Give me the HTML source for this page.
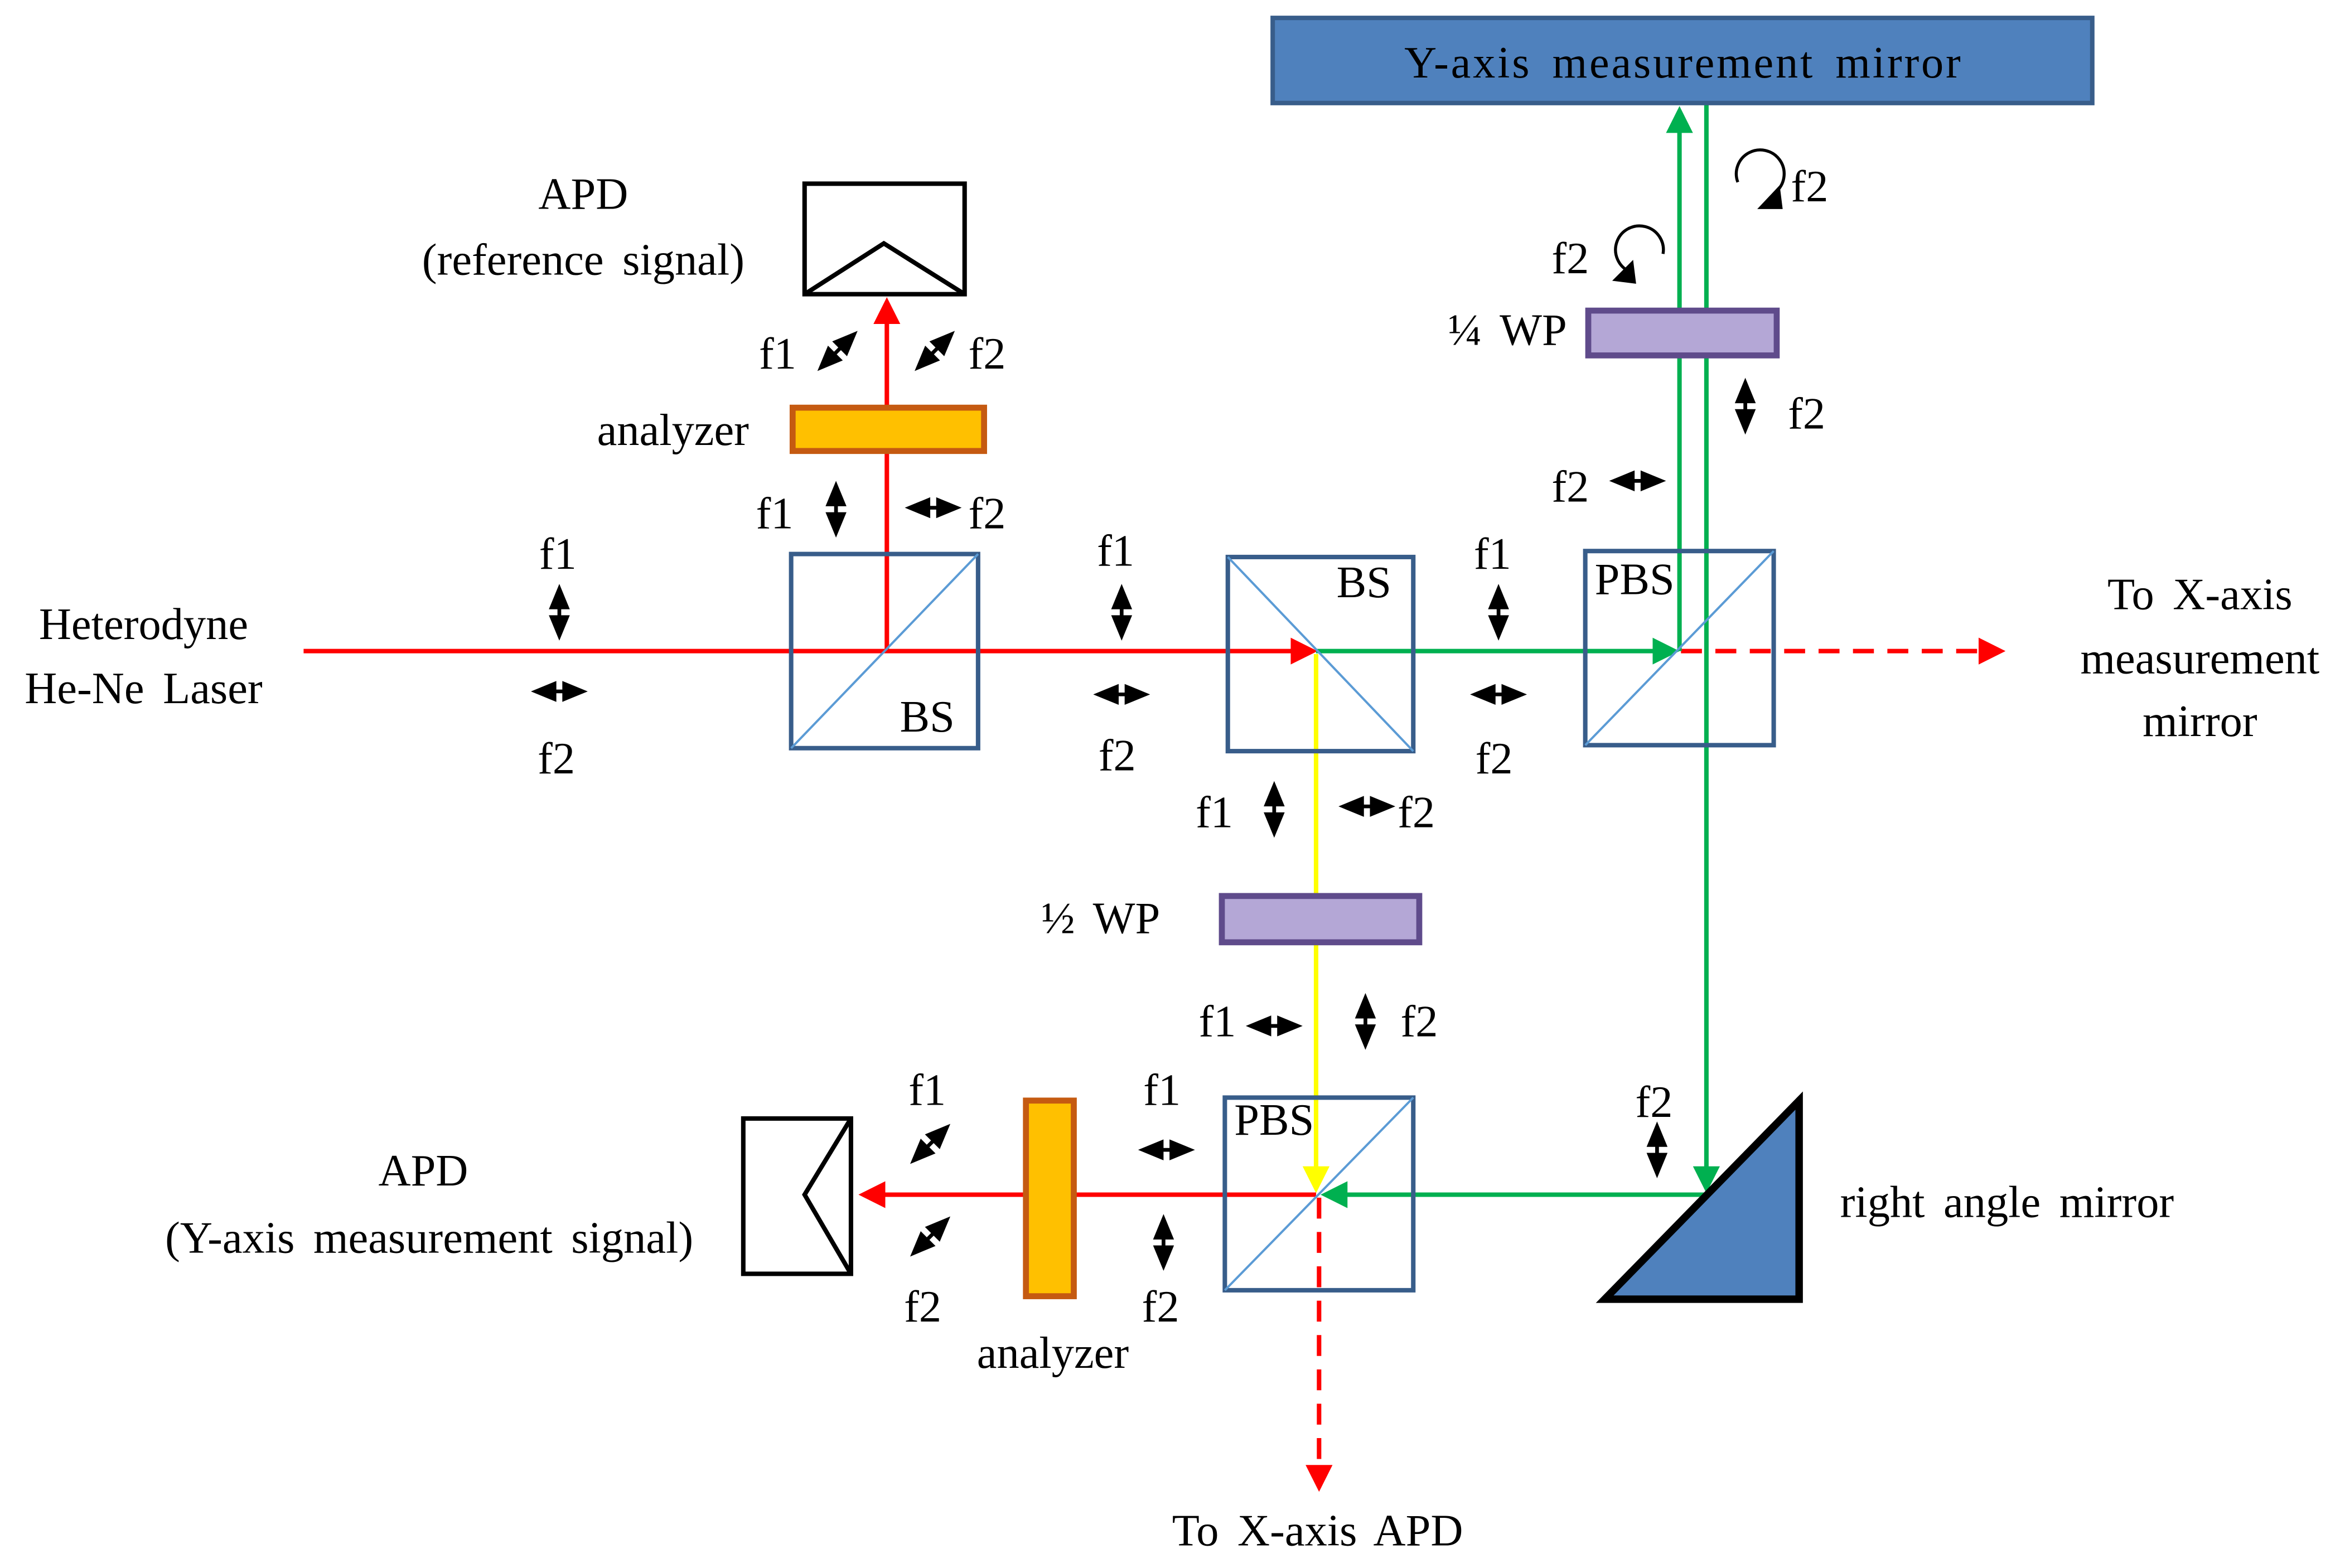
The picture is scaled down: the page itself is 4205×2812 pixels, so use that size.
<!DOCTYPE html>
<html><head><meta charset="utf-8"><style>html,body{margin:0;padding:0;background:#fff}svg{display:block}</style></head>
<body>
<svg width="4205" height="2812" viewBox="0 0 1568 1050" preserveAspectRatio="none" xmlns="http://www.w3.org/2000/svg">
<defs>
<g id="dv"><line x1="0" y1="-14" x2="0" y2="14" stroke="#000" stroke-width="2.5"/><polygon points="0,-19 -7,-2 7,-2" fill="#000"/><polygon points="0,19 -7,2 7,2" fill="#000"/></g>
<marker id="ar" markerWidth="6" markerHeight="6" refX="5" refY="3" orient="auto" markerUnits="strokeWidth"><path d="M0,0 L6,3 L0,6 z" fill="#f00"/></marker>
<marker id="ag" markerWidth="6" markerHeight="6" refX="5" refY="3" orient="auto" markerUnits="strokeWidth"><path d="M0,0 L6,3 L0,6 z" fill="#00b050"/></marker>
<marker id="ay" markerWidth="6" markerHeight="6" refX="5" refY="3" orient="auto" markerUnits="strokeWidth"><path d="M0,0 L6,3 L0,6 z" fill="#ff0"/></marker>
</defs>
<rect width="1568" height="1050" fill="#fff"/>
<g stroke-width="3" fill="none">
<line x1="203" y1="436" x2="878" y2="436" stroke="#f00" marker-end="url(#ar)"/>
<line x1="593" y1="436" x2="593" y2="202" stroke="#f00" marker-end="url(#ar)"/>
<line x1="880" y1="436" x2="1120" y2="436" stroke="#00b050" marker-end="url(#ag)"/>
<line x1="1124" y1="436" x2="1338" y2="436" stroke="#f00" stroke-dasharray="14,9" marker-end="url(#ar)"/>
<line x1="1123" y1="436" x2="1123" y2="74" stroke="#00b050" marker-end="url(#ag)"/>
<line x1="1141" y1="70" x2="1141" y2="796" stroke="#00b050" marker-end="url(#ag)"/>
<line x1="1141" y1="800" x2="886" y2="800" stroke="#00b050" marker-end="url(#ag)"/>
<line x1="880" y1="438" x2="880" y2="796" stroke="#ff0" marker-end="url(#ay)"/>
<line x1="880" y1="800" x2="577" y2="800" stroke="#f00" marker-end="url(#ar)"/>
<line x1="882" y1="802" x2="882" y2="996" stroke="#f00" stroke-dasharray="14,9" marker-end="url(#ar)"/>
</g>
<rect x="851" y="12" width="548" height="57" fill="#4f81bd" stroke="#385d8a" stroke-width="3"/>
<rect x="538" y="123" width="107" height="74" fill="none" stroke="#000" stroke-width="3"/>
<polyline points="538,197 591,163 645,197" fill="none" stroke="#000" stroke-width="3"/>
<rect x="530" y="273" width="128" height="29" fill="#ffc000" stroke="#c55a11" stroke-width="4"/>
<g fill="none" stroke="#385d8a" stroke-width="3">
<rect x="529" y="371" width="125" height="130"/>
<rect x="821" y="373" width="124" height="130"/>
<rect x="1060" y="369" width="126" height="130"/>
<rect x="819" y="735" width="126" height="129"/>
</g>
<g stroke="#5b9bd5" stroke-width="1.5">
<line x1="529" y1="501" x2="654" y2="371"/>
<line x1="821" y1="373" x2="945" y2="503"/>
<line x1="1060" y1="499" x2="1186" y2="369"/>
<line x1="819" y1="864" x2="945" y2="735"/>
</g>
<rect x="1062" y="208" width="126" height="30" fill="#b4a7d6" stroke="#5f4b8b" stroke-width="4"/>
<rect x="817" y="600" width="132" height="31" fill="#b4a7d6" stroke="#5f4b8b" stroke-width="4"/>
<rect x="686" y="737" width="32" height="131" fill="#ffc000" stroke="#c55a11" stroke-width="4"/>
<rect x="497" y="749" width="72" height="104" fill="none" stroke="#000" stroke-width="3"/>
<polyline points="569,749 538,800 569,853" fill="none" stroke="#000" stroke-width="3"/>
<polygon points="1073,870 1203,870 1203,737" fill="#4f81bd" stroke="#000" stroke-width="5"/>
<use href="#dv" transform="translate(374,410)"/>
<use href="#dv" transform="translate(374,463) rotate(90)"/>
<use href="#dv" transform="translate(750,410)"/>
<use href="#dv" transform="translate(750,465) rotate(90)"/>
<use href="#dv" transform="translate(1002,410)"/>
<use href="#dv" transform="translate(1002,465) rotate(90)"/>
<use href="#dv" transform="translate(559,341)"/>
<use href="#dv" transform="translate(624,340) rotate(90)"/>
<use href="#dv" transform="translate(560,235) rotate(45)"/>
<use href="#dv" transform="translate(625,235) rotate(45)"/>
<use href="#dv" transform="translate(1095,322) rotate(90)"/>
<use href="#dv" transform="translate(1167,272)"/>
<use href="#dv" transform="translate(852,542)"/>
<use href="#dv" transform="translate(914,540) rotate(90)"/>
<use href="#dv" transform="translate(852,687) rotate(90)"/>
<use href="#dv" transform="translate(913,684)"/>
<use href="#dv" transform="translate(622,766) rotate(45)"/>
<use href="#dv" transform="translate(622,828) rotate(45)"/>
<use href="#dv" transform="translate(780,770) rotate(90)"/>
<use href="#dv" transform="translate(778,832)"/>
<use href="#dv" transform="translate(1108,770)"/>
<path d="M1090,182 A16,16 0 1 1 1112,170" fill="none" stroke="#000" stroke-width="2"/>
<polygon points="1078,188 1092,174 1094,190" fill="#000"/>
<path d="M1162,122 A16,16 0 1 1 1188,128" fill="none" stroke="#000" stroke-width="2"/>
<polygon points="1175,140 1190,124 1192,140" fill="#000"/>
<g font-family="Liberation Serif, serif" font-size="30" fill="#000" text-anchor="middle" dominant-baseline="central" word-spacing="5">
<text x="1125" y="42" textLength="372" lengthAdjust="spacing">Y-axis measurement mirror</text>
<text x="390" y="130">APD</text>
<text x="390" y="174">(reference  signal)</text>
<text x="450" y="288">analyzer</text>
<text x="96" y="418">Heterodyne</text>
<text x="96" y="461">He-Ne Laser</text>
<text x="620" y="480">BS</text>
<text x="912" y="390">BS</text>
<text x="1093" y="388">PBS</text>
<text x="852" y="750">PBS</text>
<text x="1471" y="398">To X-axis</text>
<text x="1471" y="441">measurement</text>
<text x="1471" y="483">mirror</text>
<text x="1008" y="221">¼ WP</text>
<text x="736" y="615">½ WP</text>
<text x="283" y="784">APD</text>
<text x="287" y="829">(Y-axis measurement signal)</text>
<text x="704" y="906">analyzer</text>
<text x="1342" y="805">right  angle  mirror</text>
<text x="881" y="1025">To X-axis APD</text>
<text x="373" y="371">f1</text><text x="372" y="508">f2</text>
<text x="746" y="369">f1</text><text x="747" y="506">f2</text>
<text x="998" y="371">f1</text><text x="999" y="508">f2</text>
<text x="518" y="344">f1</text><text x="660" y="344">f2</text>
<text x="520" y="237">f1</text><text x="660" y="237">f2</text>
<text x="1050" y="326">f2</text>
<text x="1208" y="277">f2</text>
<text x="1050" y="173">f2</text>
<text x="1210" y="125">f2</text>
<text x="812" y="544">f1</text><text x="947" y="544">f2</text>
<text x="814" y="684">f1</text><text x="949" y="684">f2</text>
<text x="620" y="730">f1</text><text x="617" y="875">f2</text>
<text x="777" y="730">f1</text><text x="776" y="875">f2</text>
<text x="1106" y="738">f2</text>
</g>
</svg>
</body></html>
